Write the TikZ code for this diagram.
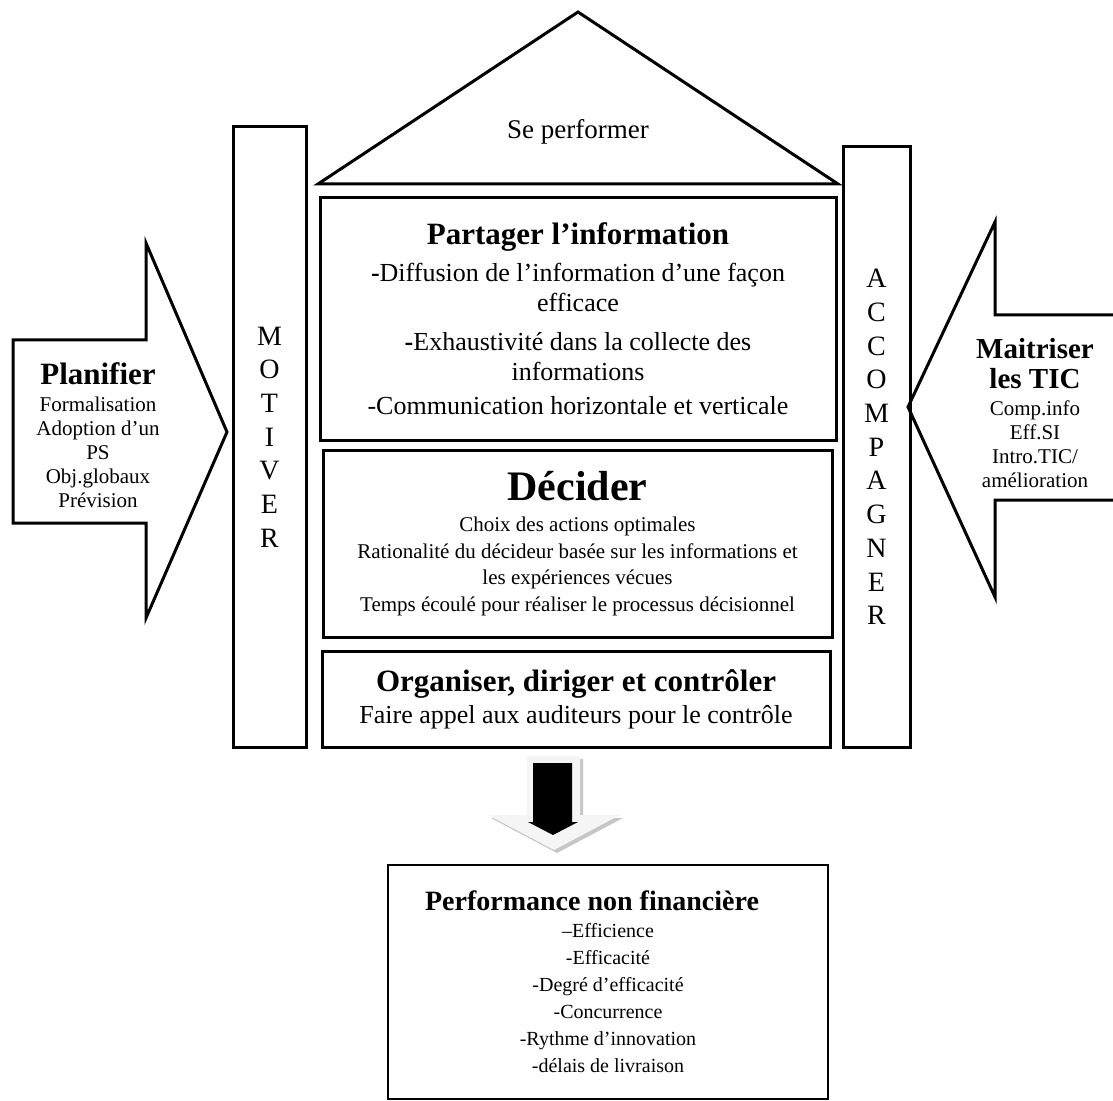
\documentclass[tikz,border=0pt]{standalone}
\usepackage{fontspec}
\setmainfont{Liberation Serif}
\usepackage{tikz}
\usetikzlibrary{positioning}

\newcommand{\setfs}[2]{\fontsize{#1}{#2}\selectfont}
\newcommand{\boxtitle}[1]{{\setfs{15.5}{18}\bfseries #1}}

\begin{document}
\begin{tikzpicture}[
    x=0.5pt, y=-0.5pt,
    thickline/.style={draw, line width=1.5pt, line join=miter},
    box/.style={thickline, align=center, inner sep=0pt, font=\setfs{13}{15}},
    pillar/.style={thickline, align=center, inner sep=0pt, font=\setfs{14}{16.85}},
    sidetext/.style={align=center, inner sep=0pt, font=\setfs{10.5}{12}}
]
\useasboundingbox (0,0) rectangle (1113,1101);
\clip (0,0) rectangle (1113,1101);

% roof
\draw[thickline] (318,184) -- (578,12) -- (838,184) -- cycle;
\node[font=\setfs{13.5}{16}] (perform) at (578,132) {Se performer};

% pillars
\node[pillar, minimum width=36.5pt, minimum height=310pt] (motiver) at (269.5,437) {M\\O\\T\\I\\V\\E\\R};
\node[pillar, minimum width=33.5pt, minimum height=300pt] (accomp) at (876.5,447) {A\\C\\C\\O\\M\\P\\A\\G\\N\\E\\R};

% floors of the house
\node[box, minimum width=258pt, minimum height=121pt] (partager) at (578,319) {%
    \boxtitle{Partager l’information}\\[3.5pt]
    \textbf{-}Diffusion de l’information d’une façon\\ efficace\\[4.5pt]
    \textbf{-}Exhaustivité dans la collecte des\\ informations\\[2pt]
    -Communication horizontale et verticale};
\node[box, minimum width=254.5pt, minimum height=93.5pt, font=\setfs{10.5}{13.3}] (decider) at (577.5,543.5) {%
    {\setfs{21}{24}\bfseries Décider}\\[2.4pt]
    Choix des actions optimales\\
    Rationalité du décideur basée sur les informations et\\
    les expériences vécues\\
    Temps écoulé pour réaliser le processus décisionnel};
\node[box, minimum width=254pt, minimum height=48pt] (organiser) at (576,699) {%
    \boxtitle{Organiser, diriger et contrôler}\\[1pt]
    Faire appel aux auditeurs pour le contrôle};

% side arrows
\draw[thickline] (13,340) -- (146,340) -- (146,243) -- (227,432) -- (146,618) -- (146,523) -- (13,523) -- cycle;
\node[sidetext] (planifier) at (98,435) {\boxtitle{Planifier}\\[1.5pt]
    Formalisation\\ Adoption d’un\\ PS\\ Obj.globaux\\ Prévision};
\draw[thickline] (1120,315) -- (995,315) -- (995,222) -- (908,407) -- (995,597) -- (995,500) -- (1120,500);
\node[sidetext] (tic) at (1035,413) {{\setfs{14.5}{17}\bfseries Maitriser}\\[3pt] {\setfs{14.5}{17}\bfseries les TIC}\\[1.5pt]
    Comp.info\\ Eff.SI\\ Intro.TIC/\\ amélioration};

% down arrow
\fill[gray!45] (530,759) -- (583,759) -- (583,818) -- (623,818) -- (557,853) -- (491,818) -- (530,818) -- cycle;
\fill[gray!8] (527,756) -- (580,756) -- (580,815) -- (620,815) -- (554,850) -- (488,815) -- (527,815) -- cycle;
\fill[black] (533,763) -- (572,763) -- (572,822) -- (578,822) -- (553,835) -- (528,822) -- (533,822) -- cycle;

% result
\node[draw, line width=0.8pt, align=center, inner sep=0pt, minimum width=220pt, minimum height=117pt,
      font=\setfs{10}{13.5}] (result) at (608,982) {%
    {\setfs{14}{16}\bfseries Performance non financière}\hspace*{16pt}\\
    –Efficience\\ -Efficacité\\ -Degré d’efficacité\\ -Concurrence\\ -Rythme d’innovation\\ -délais de livraison};
\end{tikzpicture}
\end{document}
